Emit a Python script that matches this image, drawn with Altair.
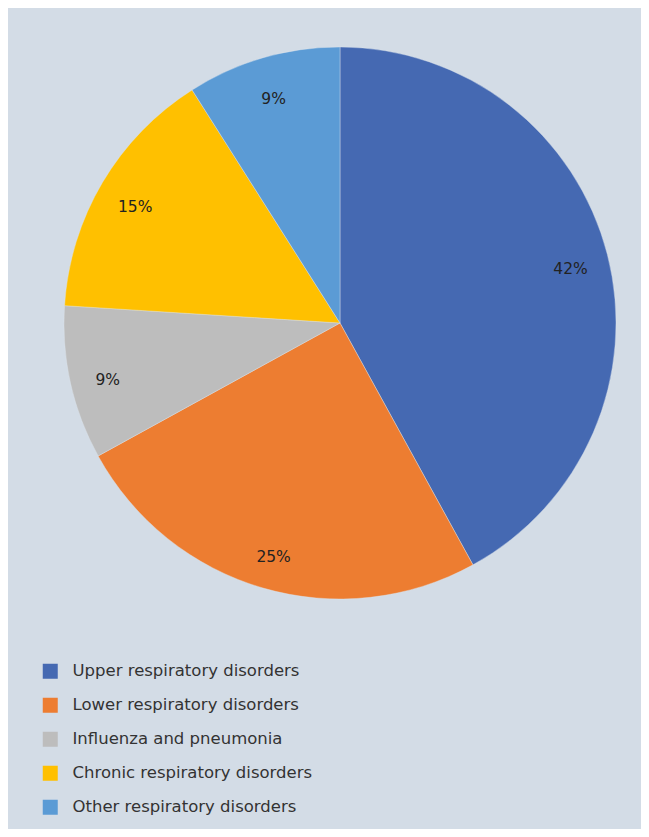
import altair as alt
import pandas as pd

categories = [
    "Upper respiratory disorders",
    "Lower respiratory disorders",
    "Influenza and pneumonia",
    "Chronic respiratory disorders",
    "Other respiratory disorders",
]
values = [42, 25, 9, 15, 9]
colors = ["#4569b2", "#ed7d31", "#bdbdbd", "#ffc000", "#5b9bd5"]

df = pd.DataFrame({"category": categories, "value": values, "order": list(range(len(categories)))})

base = alt.Chart(df).encode(
    theta=alt.Theta("value:Q", stack=True),
    order=alt.Order("order:Q"),
    x=alt.value(332),
    y=alt.value(315),
)

pie = base.mark_arc(outerRadius=276, stroke="#dfe6ee", strokeWidth=0.4).encode(
    color=alt.Color(
        "category:N",
        scale=alt.Scale(domain=categories, range=colors),
        legend=alt.Legend(
            title=None,
            orient="none",
            legendX=34,
            legendY=655,
            padding=0,
            symbolType="square",
            symbolSize=225,
            symbolStrokeWidth=0,
            symbolOpacity=1,
            labelFontSize=16.5,
            labelFont="DejaVu Sans",
            labelColor="#333333",
            labelOffset=14,
            rowPadding=17,
            labelLimit=400,
        ),
    )
)

text = base.transform_calculate(label="datum.value + '%'").mark_text(
    radius=238, dy=5, fontSize=15.5, font="DejaVu Sans", color="#222222"
).encode(text="label:N")

chart = (
    alt.layer(pie, text)
    .properties(
        width=633,
        height=821,
        background="#d3dce6",
        padding=0,
        autosize=alt.AutoSizeParams(type="fit", contains="padding"),
    )
    .configure_view(stroke=None)
)

chart.save("out.html", embed_options={"renderer": "svg", "actions": False})
